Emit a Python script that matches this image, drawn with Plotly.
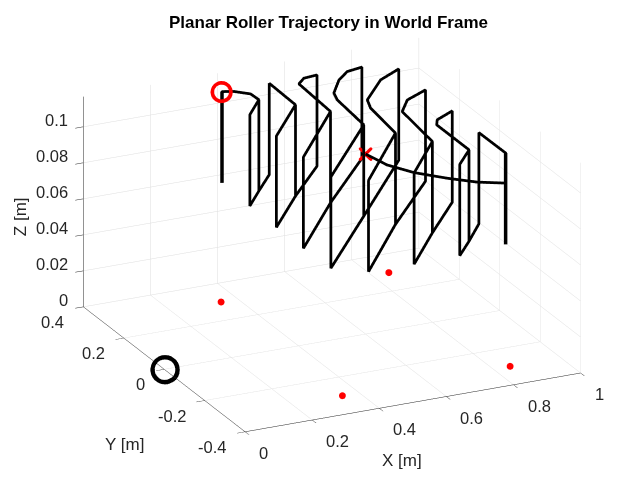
import plotly.graph_objects as go

zb = 0.066
zt = 0.1167

# roller path
traj_x = [0.353, 0.353, 0.382, 0.415, 0.417, 0.348, 0.348, 0.417, 0.417, 0.417, 0.494, 0.494,
          0.49, 0.345, 0.345, 0.49, 0.49, 0.49, 0.636, 0.636, 0.594, 0.564, 0.554, 0.345, 0.345,
          0.554, 0.554, 0.554, 0.77, 0.77, 0.72, 0.674, 0.62, 0.607, 0.593, 0.349, 0.349,
          0.593, 0.593, 0.593, 0.854, 0.854, 0.775, 0.68, 0.662, 0.644, 0.43, 0.43,
          0.644, 0.644, 0.644, 0.853, 0.853, 0.777, 0.728, 0.707, 0.564, 0.564,
          0.707, 0.707, 0.707, 0.852, 0.852, 0.787, 0.77, 0.77, 0.702, 0.702,
          0.77, 0.77, 0.77, 0.848, 0.848, 0.849, 0.849]
traj_y = [0.3, 0.3, 0.29, 0.262, 0.224, 0.154, 0.154, 0.224, 0.224, 0.224, 0.3, 0.3,
          0.164, 0.018, 0.018, 0.164, 0.164, 0.164, 0.3, 0.3, 0.295, 0.27, 0.097, -0.116, -0.116,
          0.097, 0.097, 0.097, 0.3, 0.3, 0.29, 0.254, 0.19, 0.152, -0.003, -0.245, -0.245,
          -0.003, -0.003, -0.003, 0.257, 0.257, 0.216, 0.124, 0.078, -0.075, -0.297, -0.297,
          -0.075, -0.075, -0.075, 0.123, 0.123, 0.087, 0.031, -0.153, -0.3, -0.3,
          -0.153, -0.153, -0.153, -0.011, -0.011, -0.044, -0.07, -0.23, -0.297, -0.297,
          -0.23, -0.23, -0.23, -0.149, -0.149, -0.28, -0.28]
traj_z = [zb, zt, zt, zt, zt, zt, zb, zb, zt, zb, zb, zt,
          zt, zt, zb, zb, zt, zb, zb, zt, zt, zt, zt, zt, zb,
          zb, zt, zb, zb, zt, zt, zt, zt, zt, zt, zt, zb,
          zb, zt, zb, zb, zt, zt, zt, zt, zt, zt, zb,
          zb, zt, zb, zb, zt, zt, zt, zt, zt, zb,
          zb, zt, zb, zb, zt, zt, zt, zt, zt, zb,
          zb, zt, zb, zb, zt, zt, zb]

# last curve, into the centre
end_x = [0.6, 0.618, 0.659, 0.722, 0.783, 0.849]
end_y = [0.0, -0.077, -0.141, -0.201, -0.249, -0.28]
end_z = [0.1, 0.1, 0.1, 0.1, 0.1, 0.1]

# first and last stroke are heavier
heavy_x = [0.353, 0.353, None, 0.849, 0.849]
heavy_y = [0.3, 0.3, None, -0.28, -0.28]
heavy_z = [zb, zt, None, zb, zt]

feet_x = [0.35, 0.35, 0.85, 0.85]
feet_y = [0.3, -0.3, 0.3, -0.3]
feet_z = [0, 0, 0, 0]

x_ticks = [0, 0.2, 0.4, 0.6, 0.8, 1]
x_labels = ["0", "0.2", "0.4", "0.6", "0.8", "1"]
y_ticks = [-0.4, -0.2, 0, 0.2, 0.4]
y_labels = ["-0.4", "-0.2", "0", "0.2", "0.4"]
z_ticks = [0, 0.02, 0.04, 0.06, 0.08, 0.1]
z_labels = ["0", "0.02", "0.04", "0.06", "0.08", "0.1"]

fig = go.Figure()
fig.add_trace(go.Scatter3d(x=traj_x, y=traj_y, z=traj_z, mode="lines",
                           line=dict(color="black", width=5.5)))
fig.add_trace(go.Scatter3d(x=end_x, y=end_y, z=end_z, mode="lines",
                           line=dict(color="black", width=5.5)))
fig.add_trace(go.Scatter3d(x=heavy_x, y=heavy_y, z=heavy_z, mode="lines",
                           line=dict(color="black", width=7)))
fig.add_trace(go.Scatter3d(x=feet_x, y=feet_y, z=feet_z, mode="markers",
                           marker=dict(color="red", size=4)))
# open glyphs draw a thin ring, so stack a few sizes for the heavy outline
for s in [10.5, 11.2, 11.9, 12.6]:
    fig.add_trace(go.Scatter3d(x=[0.35], y=[0.3], z=[zt], mode="markers",
                               marker=dict(symbol="circle-open", size=s, color="red")))
fig.add_trace(go.Scatter3d(x=[0.6], y=[0], z=[0.1], mode="markers",
                           marker=dict(symbol="x", size=3, color="red",
                                       line=dict(color="red", width=2))))
for s in [14.6, 15.3, 16, 16.7]:
    fig.add_trace(go.Scatter3d(x=[0], y=[0], z=[0], mode="markers",
                               marker=dict(symbol="circle-open", size=s, color="black")))

axis = dict(showbackground=False, gridcolor="#dedede", gridwidth=1, showline=True,
            linecolor="#262626", linewidth=1, ticks="outside", ticklen=9, tickwidth=1,
            tickcolor="#262626", zeroline=False, showspikes=False, tickmode="array",
            showticklabels=False, title=dict(text=""))

tick_font = dict(family="Liberation Sans", size=16.5, color="#262626")
label_font = dict(family="Liberation Sans", size=17, color="#262626")

notes = []
for v, t in zip(x_ticks, x_labels):
    notes.append(dict(x=v, y=-0.4, z=0, text=t, showarrow=False, xanchor="left", yanchor="middle",
                      xshift=12, yshift=-21, font=tick_font))
for v, t in zip(y_ticks, y_labels):
    notes.append(dict(x=0, y=v, z=0, text=t, showarrow=False, xanchor="right", yanchor="middle",
                      xshift=-17, yshift=-15, font=tick_font))
for v, t in zip(z_ticks, z_labels):
    notes.append(dict(x=0, y=0.4, z=v, text=t, showarrow=False, xanchor="right", yanchor="middle",
                      xshift=-13, yshift=7, font=tick_font))
notes.append(dict(x=0.5, y=-0.4, z=0, text="X [m]", showarrow=False, xshift=-11, yshift=-58, font=label_font))
notes.append(dict(x=0, y=0, z=0, text="Y [m]", showarrow=False, xshift=-40, yshift=-75, font=label_font))
notes.append(dict(x=0, y=0.4, z=0.06, text="Z [m]", showarrow=False, xshift=-63, yshift=-18,
                  textangle=-90, font=label_font))

fig.update_layout(
    width=641, height=487,
    showlegend=False,
    paper_bgcolor="white",
    margin=dict(l=0, r=0, t=0, b=0),
    font=dict(family="Liberation Sans", color="#262626"),
    title=dict(text="<b>Planar Roller Trajectory in World Frame</b>", x=0.5, y=0.971,
               xanchor="center", yanchor="middle",
               font=dict(family="Liberation Sans", size=17, color="black")),
    scene=dict(
        domain=dict(x=[0, 1], y=[0, 1]),
        aspectmode="manual",
        aspectratio=dict(x=1.526, y=1.545, z=0.928),
        camera=dict(eye=dict(x=-0.813, y=-1.674, z=0.6626),
                    center=dict(x=-0.013, y=0.006, z=-0.0734),
                    up=dict(x=0, y=0, z=1),
                    projection=dict(type="orthographic")),
        xaxis=dict(axis, range=[0, 1], tickvals=x_ticks, ticktext=x_labels),
        yaxis=dict(axis, range=[-0.4, 0.4], tickvals=y_ticks, ticktext=y_labels),
        zaxis=dict(axis, range=[0, 0.1167], tickvals=z_ticks, ticktext=z_labels),
        annotations=notes,
    ),
)

fig.write_html("out.html")
